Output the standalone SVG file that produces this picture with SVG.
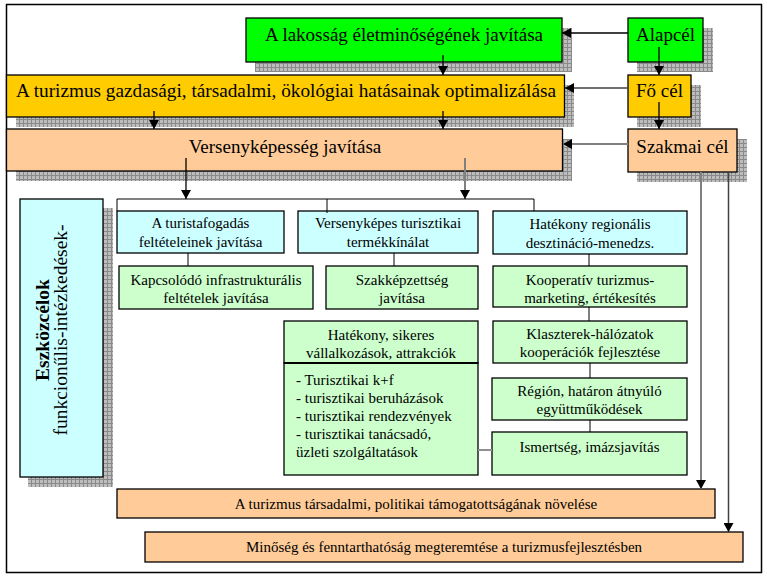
<svg xmlns="http://www.w3.org/2000/svg" width="767" height="580" viewBox="0 0 767 580">
<style>
text{font-family:"Liberation Serif","Times New Roman",serif;fill:#000}
.t19{font-size:19px;text-anchor:middle}
.t15{font-size:15px;text-anchor:middle}
.l15{font-size:15px}
.box{stroke:#000;stroke-width:1.3}
.g1{fill:#00ff00}
.g2{fill:#ffcc00}
.p{fill:#ffcc99}
.b{fill:#ccffff}
.lg{fill:#ccffcc}
.sh{fill:url(#grid)}
.c{fill:none;stroke:#000;stroke-width:1}
.ca{fill:none;stroke:#000;stroke-width:1.3;marker-end:url(#ah)}
.cg{fill:none;stroke:#808080;stroke-width:2;marker-end:url(#ah)}
.cd{fill:none;stroke:#404040;stroke-width:1.5;marker-end:url(#ah)}
</style>
<defs>
<pattern id="grid" width="4" height="4" patternUnits="userSpaceOnUse">
<rect width="4" height="4" fill="#bdbdbd"/>
<path d="M3.5 0V4M0 3.5H4" stroke="#8a8a8a" stroke-width="1"/>
</pattern>
<marker id="ah" markerUnits="userSpaceOnUse" markerWidth="9" markerHeight="10" refX="9" refY="5" orient="auto">
<path d="M0 0L9 5L0 10z" fill="#000"/>
</marker>
</defs>
<rect x="0" y="0" width="767" height="580" fill="#fff"/>
<rect x="6.5" y="4.5" width="755" height="568" fill="#fff" stroke="#000" stroke-width="1.5"/>

<g id="shadows">
<rect class="sh" x="255" y="28" width="317" height="44"/>
<rect class="sh" x="637" y="28" width="76" height="44"/>
<rect class="sh" x="16" y="85" width="558" height="42"/>
<rect class="sh" x="637" y="85" width="64" height="42"/>
<rect class="sh" x="16" y="139" width="556" height="42"/>
<rect class="sh" x="637" y="139" width="110" height="43"/>
<rect class="sh" x="28" y="208" width="85" height="279"/>
</g>

<g id="n-lakossag"><rect class="box g1" x="246" y="18" width="316" height="44"/><text class="t19" x="404" y="41">A lakosság életminőségének javítása</text></g>
<g id="n-alapcel"><rect class="box g1" x="628" y="18" width="75" height="44"/><text class="t19" x="665.5" y="41">Alapcél</text></g>
<g id="n-turizmus"><rect class="box g2" x="6.5" y="75" width="558" height="42"/><text class="t19" x="286" y="97" textLength="540" lengthAdjust="spacingAndGlyphs">A turizmus gazdasági, társadalmi, ökológiai hatásainak optimalizálása</text></g>
<g id="n-focel"><rect class="box g2" x="628" y="75" width="63" height="42"/><text class="t19" x="659.5" y="97">Fő cél</text></g>
<g id="n-verseny"><rect class="box p" x="6.5" y="129" width="556" height="42"/><text class="t19" x="285" y="153">Versenyképesség javítása</text></g>
<g id="n-szakmai"><rect class="box p" x="628" y="129" width="109" height="43"/><text class="t19" x="682.5" y="153">Szakmai cél</text></g>

<g id="n-eszkoz"><rect class="box b" x="20" y="199" width="83" height="278"/>
<text font-size="19.5" font-weight="bold" text-anchor="middle" transform="translate(49,330) rotate(-90)">Eszközcélok</text>
<text font-size="19.5" text-anchor="middle" transform="translate(67,330) rotate(-90)">funkcionűlis-intézkedések-</text></g>

<g id="n-turistafog"><rect class="box b" x="117" y="211" width="167" height="42"/><text class="t15" x="200.5" y="228">A turistafogadás</text><text class="t15" x="200.5" y="247">feltételeinek javítása</text></g>
<g id="n-termek"><rect class="box b" x="298" y="211" width="180" height="42"/><text class="t15" x="388" y="228">Versenyképes turisztikai</text><text class="t15" x="388" y="247">termékkínálat</text></g>
<g id="n-desztin"><rect class="box b" x="493" y="211" width="194" height="43"/><text class="t15" x="590" y="229">Hatékony regionális</text><text class="t15" x="590" y="248">desztináció-menedzs.</text></g>

<g id="n-infra"><rect class="box lg" x="119" y="266" width="194" height="43"/><text class="t15" x="216" y="285">Kapcsolódó infrastrukturális</text><text class="t15" x="216" y="303">feltételek javítása</text></g>
<g id="n-szakkep"><rect class="box lg" x="326" y="266" width="152" height="43"/><text class="t15" x="402" y="285">Szakképzettség</text><text class="t15" x="402" y="303">javítása</text></g>
<g id="n-koop"><rect class="box lg" x="493" y="266" width="194" height="41"/><text class="t15" x="590" y="285">Kooperatív turizmus-</text><text class="t15" x="590" y="303">marketing, értékesítés</text></g>
<g id="n-klaszter"><rect class="box lg" x="493" y="321" width="194" height="42"/><text class="t15" x="590" y="339">Klaszterek-hálózatok</text><text class="t15" x="590" y="357">kooperációk fejlesztése</text></g>
<g id="n-regio"><rect class="box lg" x="492" y="378" width="195" height="42"/><text class="t15" x="589.5" y="396">Régión, határon átnyúló</text><text class="t15" x="589.5" y="414">együttműködések</text></g>
<g id="n-ismert"><rect class="box lg" x="492" y="432" width="195" height="43"/><text class="t15" x="589.5" y="452">Ismertség, imázsjavítás</text></g>
<g id="n-vallalk"><rect class="box lg" x="284" y="321" width="194" height="42"/><text class="t15" x="381" y="340">Hatékony, sikeres</text><text class="t15" x="381" y="358">vállalkozások, attrakciók</text></g>
<g id="n-lista"><rect class="box lg" x="284" y="363" width="194" height="112"/><line x1="284" y1="363" x2="478" y2="363" stroke="#000" stroke-width="2.2"/>
<text class="l15" x="296" y="385">- Turisztikai k+f</text>
<text class="l15" x="296" y="403">- turisztikai beruházások</text>
<text class="l15" x="296" y="421">- turisztikai rendezvények</text>
<text class="l15" x="296" y="439">- turisztikai tanácsadó,</text>
<text class="l15" x="296" y="457">üzleti szolgáltatások</text></g>

<g id="n-tamogat"><rect class="box p" x="117" y="489" width="598" height="29"/><text class="t15" x="416" y="509">A turizmus társadalmi, politikai támogatottságának növelése</text></g>
<g id="n-minoseg"><rect class="box p" x="145" y="532" width="598" height="30"/><text class="t15" x="444" y="552">Minőség és fenntarthatóság megteremtése a turizmusfejlesztésben</text></g>

<g id="connectors">
<line class="ca" x1="628" y1="33" x2="562" y2="33"/>
<line class="cd" x1="628" y1="88" x2="565" y2="88"/>
<line class="cg" x1="628" y1="144" x2="563" y2="144"/>
<line class="ca" x1="659" y1="47" x2="659" y2="75"/>
<line class="ca" x1="659" y1="102" x2="659" y2="129"/>
<line class="ca" x1="443" y1="55" x2="443" y2="75"/>
<line class="ca" x1="154" y1="111" x2="154" y2="129"/>
<line class="ca" x1="443" y1="111" x2="443" y2="129"/>
<line class="ca" x1="186" y1="158" x2="186" y2="199"/>
<line class="cg" x1="465" y1="158" x2="465" y2="199"/>
<path class="c" d="M117 211V199H534V211M327 199V213"/>
<line class="c" x1="188" y1="253" x2="188" y2="266"/>
<line class="c" x1="394" y1="253" x2="394" y2="266"/>
<line class="c" x1="589" y1="254" x2="589" y2="266"/>
<line class="c" x1="589" y1="307" x2="589" y2="321"/>
<line class="c" x1="590" y1="363" x2="590" y2="378"/>
<line class="c" x1="590" y1="420" x2="590" y2="432"/>
<line x1="478" y1="450" x2="492" y2="450" stroke="#909090" stroke-width="2"/>
<line class="cg" x1="701" y1="172" x2="701" y2="489"/>
<line class="cd" x1="728.5" y1="172" x2="728.5" y2="532"/>
</g>
</svg>
